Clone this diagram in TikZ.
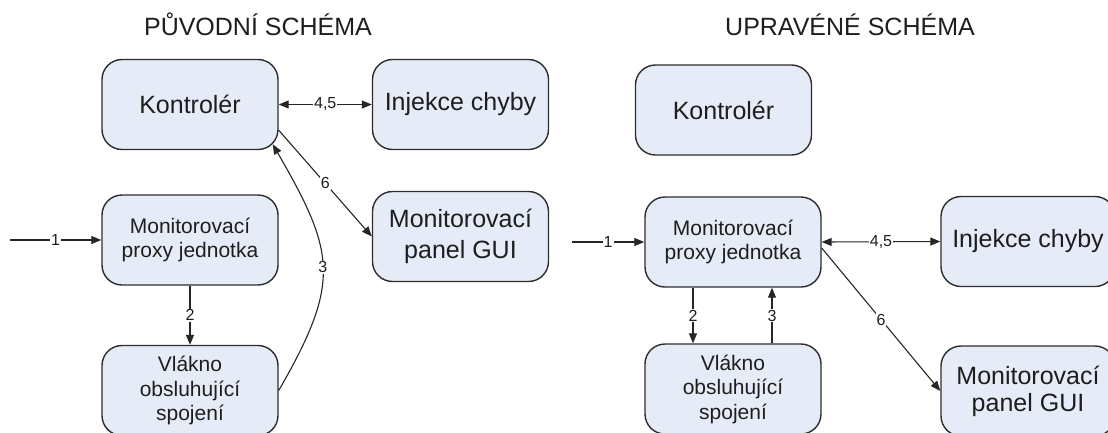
\documentclass[tikz,border=0pt]{standalone}
\usepackage{fontspec}
\setmainfont{Liberation Sans}
\usetikzlibrary{arrows.meta,calc}
\definecolor{boxfill}{RGB}{229,235,247}
\definecolor{boxline}{RGB}{45,45,45}
\definecolor{txt}{RGB}{30,30,30}
\begin{document}
\begin{tikzpicture}[x=1bp,y=1bp,
  box/.style={draw=boxline, line width=1.4bp, fill=boxfill, rounded corners=20bp,
    minimum width=176bp, minimum height=90bp, inner sep=0pt, align=center, text=txt},
  big/.style={font=\fontsize{25bp}{29bp}\selectfont},
  small/.style={font=\fontsize{21bp}{24.5bp}\selectfont},
  title/.style={anchor=base, text=txt, font=\fontsize{25bp}{30bp}\selectfont},
  conn/.style={draw=black!85, line width=1.1bp},
  tip/.style={-{Triangle[length=10bp,width=8bp]}},
  dtip/.style={{Triangle[length=10bp,width=8bp]}-{Triangle[length=10bp,width=8bp]}},
  lab/.style={fill=white, inner sep=1bp, text=txt, font=\fontsize{16bp}{18bp}\selectfont}]

\useasboundingbox (0,0) rectangle (1108,-432);

% titles
\node[title] (t1) at (258,-35) {PŮVODNÍ SCHÉMA};
\node[title] (t2) at (850,-35) {UPRAVÉNÉ SCHÉMA};

% left diagram
\node[box, big]   (kL) at (190,-104.5) {Kontrolér};
\node[box, big]   (iL) at (460.5,-104.5) {Injekce chyby};
\node[box, small] (pL) at (190,-240) {Monitorovací\\proxy jednotka};
\node[box, big, font=\fontsize{25bp}{31bp}\selectfont] (gL) at (460.5,-236.5) {Monitorovací\\panel GUI};
\node[box, small] (vL) at (190,-390.5) {Vlákno\\obsluhující\\spojení};

\coordinate (s1L) at (10,-240);
\draw[conn, tip] (s1L) -- node[lab] {1} (pL.west);
\draw[conn, tip] (pL.south) -- node[lab] {2} (vL.north);
\draw[conn, dtip] (kL.east) -- node[lab] {4,5} (iL.west);
\draw[conn, tip] ($(kL.south east)+(0,20)$) -- node[lab] {6} (gL.west);
\draw[conn, tip] (vL.east) to[out=60, in=-60, looseness=1.3] node[lab] {3} ($(kL.south east)+(-6,6)$);

% right diagram
\node[box, big]   (kR) at (723.5,-110) {Kontrolér};
\node[box, small] (pR) at (733,-242) {Monitorovací\\proxy jednotka};
\node[box, small] (vR) at (733,-389) {Vlákno\\obsluhující\\spojení};
\node[box, big, minimum width=174bp] (iR) at (1028,-241.5) {Injekce chyby};
\node[box, big, minimum width=174bp, font=\fontsize{25bp}{27bp}\selectfont] (gR) at (1028,-391) {Monitorovací\\panel GUI};

\coordinate (s1R) at (572,-242);
\draw[conn, tip] (s1R) -- node[lab] {1} (pR.west);
\draw[conn, tip] ($(pR.south)+(-40,0)$) -- node[lab] {2} ($(vR.north)+(-40,0)$);
\draw[conn, tip] ($(vR.north)+(39,0)$) -- node[lab] {3} ($(pR.south)+(39,0)$);
\draw[conn, dtip] (pR.east) -- node[lab] {4,5} (iR.west);
\draw[conn, tip] ($(pR.east)+(0,-6)$) -- node[lab] {6} (gR.west);
\end{tikzpicture}
\end{document}
